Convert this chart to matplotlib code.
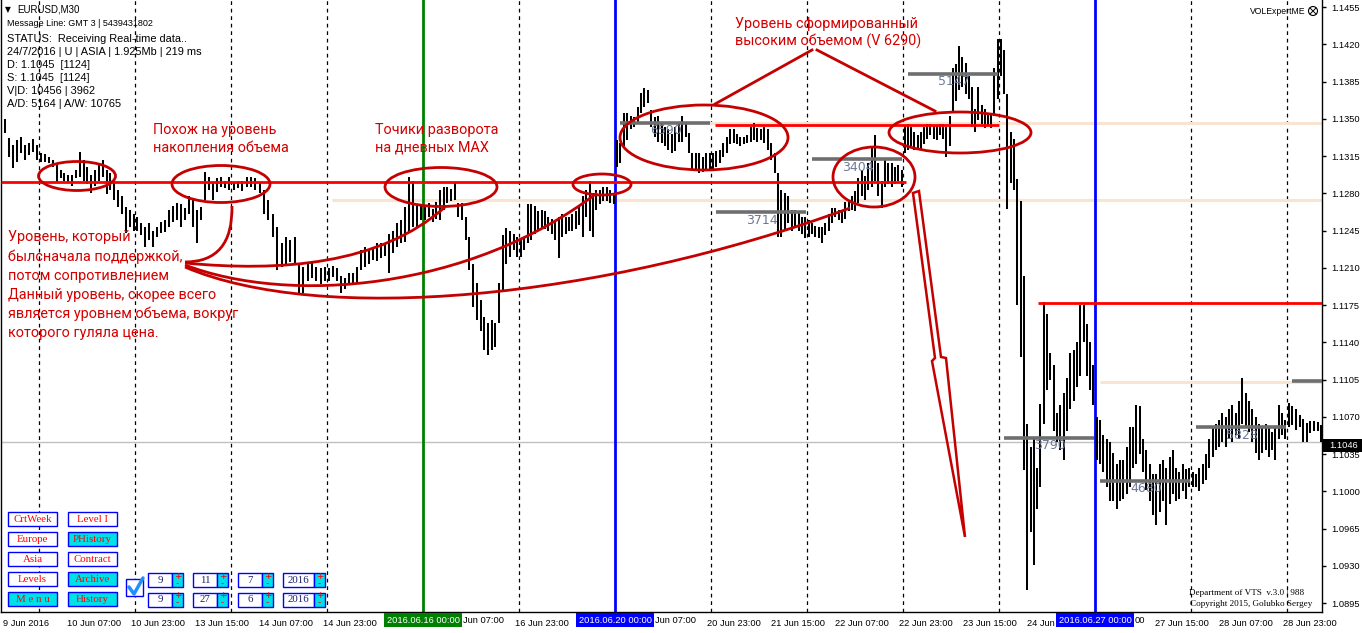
import matplotlib
matplotlib.use('Agg')
import matplotlib.pyplot as plt
from matplotlib.patches import Ellipse, Rectangle, Polygon, PathPatch
from matplotlib.path import Path
import numpy as np

# ---------------- data (EURUSD, M30 chart, read per day as hourly-ish bars) -------------
day_names = ['9 Jun', '10 Jun', '13 Jun', '14 Jun', '15 Jun', '16 Jun', '17 Jun', '20 Jun',
             '21 Jun', '22 Jun', '23 Jun', '24 Jun', '27 Jun', '28 Jun', '29 Jun']
# trading-hour span of each day (hours counted from 9 Jun 00:00, weekends removed)
day_start = [15, 24, 48, 72, 96, 120, 144, 168, 192, 216, 240, 264, 288, 312, 336]
day_end = [24, 48, 72, 96, 120, 144, 168, 192, 216, 240, 264, 288, 312, 336, 345]

hi_0609 = [1.1350, 1.1332, 1.1325, 1.1330, 1.1333, 1.1325, 1.1327, 1.1331, 1.1325]
lo_0609 = [1.1337, 1.1314, 1.1304, 1.1309, 1.1318, 1.1311, 1.1316, 1.1319, 1.1311]
hi_0610 = [1.1318, 1.1317, 1.1314, 1.1311, 1.1308, 1.1302, 1.1299, 1.1297, 1.1297, 1.1302, 1.1319, 1.1311, 1.1305,
           1.1297, 1.1302, 1.1308, 1.1311, 1.1302, 1.1299, 1.1292, 1.1283, 1.1277, 1.1267, 1.1264, 1.1261]
lo_0610 = [1.1309, 1.1309, 1.1308, 1.1305, 1.1290, 1.1294, 1.1292, 1.1291, 1.1287, 1.1294, 1.1295, 1.1292, 1.1289,
           1.1280, 1.1287, 1.1292, 1.1295, 1.1279, 1.1283, 1.1274, 1.1267, 1.1261, 1.1243, 1.1248, 1.1245]
hi_0613 = [1.1258, 1.1252, 1.1248, 1.1252, 1.1245, 1.1248, 1.1253, 1.1255, 1.1264, 1.1268, 1.1271, 1.1270,
           1.1266, 1.1277, 1.1274, 1.1264, 1.1267, 1.1300, 1.1295, 1.1290, 1.1294, 1.1295, 1.1292, 1.1295]
lo_0613 = [1.1245, 1.1241, 1.1230, 1.1236, 1.1230, 1.1239, 1.1243, 1.1244, 1.1248, 1.1253, 1.1255, 1.1248,
           1.1255, 1.1261, 1.1248, 1.1233, 1.1255, 1.1274, 1.1283, 1.1274, 1.1281, 1.1286, 1.1285, 1.1283]
hi_0614 = [1.1291, 1.1292, 1.1292, 1.1295, 1.1295, 1.1294, 1.1291, 1.1283, 1.1274, 1.1261, 1.1248, 1.1233,
           1.1239, 1.1236, 1.1239, 1.1213, 1.1211, 1.1214, 1.1215, 1.1211, 1.1210, 1.1211]
lo_0614 = [1.1283, 1.1285, 1.1282, 1.1286, 1.1286, 1.1283, 1.1280, 1.1261, 1.1255, 1.1239, 1.1208, 1.1211,
           1.1214, 1.1215, 1.1214, 1.1186, 1.1186, 1.1198, 1.1200, 1.1198, 1.1195, 1.1198]
hi_0615 = [1.1210, 1.1212, 1.1210, 1.1202, 1.1200, 1.1205, 1.1205, 1.1211, 1.1227, 1.1230, 1.1227, 1.1230,
           1.1233, 1.1233, 1.1233, 1.1242, 1.1245, 1.1252, 1.1255, 1.1267, 1.1295, 1.1292, 1.1270, 1.1270]
lo_0615 = [1.1198, 1.1201, 1.1198, 1.1186, 1.1190, 1.1195, 1.1196, 1.1195, 1.1208, 1.1211, 1.1214, 1.1217,
           1.1216, 1.1219, 1.1221, 1.1205, 1.1224, 1.1230, 1.1233, 1.1234, 1.1243, 1.1248, 1.1248, 1.1255]
hi_0616 = [1.1268, 1.1271, 1.1265, 1.1272, 1.1283, 1.1286, 1.1286, 1.1284, 1.1290, 1.1271, 1.1271, 1.1258, 1.1239,
           1.1214, 1.1196, 1.1180, 1.1164, 1.1158, 1.1161, 1.1158, 1.1196, 1.1241, 1.1247, 1.1245, 1.1242, 1.1239]
lo_0616 = [1.1255, 1.1258, 1.1253, 1.1256, 1.1255, 1.1264, 1.1271, 1.1273, 1.1274, 1.1258, 1.1255, 1.1236, 1.1208,
           1.1173, 1.1161, 1.1151, 1.1133, 1.1128, 1.1133, 1.1136, 1.1158, 1.1189, 1.1214, 1.1220, 1.1227, 1.1220]
hi_0617 = [1.1236, 1.1239, 1.1270, 1.1270, 1.1268, 1.1263, 1.1264, 1.1263, 1.1258, 1.1256, 1.1255, 1.1258, 1.1261, 1.1258,
           1.1258, 1.1261, 1.1263, 1.1267, 1.1277, 1.1283, 1.1292, 1.1280, 1.1283, 1.1283, 1.1286, 1.1286, 1.1283, 1.1280]
lo_0617 = [1.1220, 1.1227, 1.1233, 1.1236, 1.1242, 1.1245, 1.1246, 1.1246, 1.1245, 1.1242, 1.1236, 1.1219, 1.1239, 1.1242,
           1.1245, 1.1245, 1.1246, 1.1250, 1.1239, 1.1258, 1.1245, 1.1239, 1.1264, 1.1270, 1.1273, 1.1273, 1.1271, 1.1270]
hi_0620 = [1.1330, 1.1327, 1.1355, 1.1355, 1.1353, 1.1352, 1.1361, 1.1374, 1.1379, 1.1377, 1.1358, 1.1352, 1.1353, 1.1346,
           1.1342, 1.1340, 1.1336, 1.1342, 1.1346, 1.1353, 1.1346, 1.1337, 1.1318, 1.1318, 1.1318, 1.1314, 1.1318, 1.1318]
lo_0620 = [1.1305, 1.1308, 1.1324, 1.1330, 1.1340, 1.1342, 1.1346, 1.1355, 1.1361, 1.1365, 1.1342, 1.1333, 1.1328, 1.1327,
           1.1324, 1.1321, 1.1318, 1.1320, 1.1328, 1.1328, 1.1333, 1.1318, 1.1302, 1.1302, 1.1299, 1.1300, 1.1302, 1.1302]
hi_0621 = [1.1318, 1.1320, 1.1321, 1.1327, 1.1333, 1.1340, 1.1340, 1.1336, 1.1333, 1.1333, 1.1335, 1.1342, 1.1346, 1.1341,
           1.1340, 1.1342, 1.1340, 1.1327, 1.1318, 1.1299, 1.1283, 1.1280, 1.1277, 1.1264, 1.1264, 1.1263, 1.1258, 1.1258]
lo_0621 = [1.1302, 1.1305, 1.1308, 1.1314, 1.1318, 1.1326, 1.1327, 1.1326, 1.1324, 1.1326, 1.1327, 1.1328, 1.1330, 1.1328,
           1.1330, 1.1327, 1.1321, 1.1311, 1.1299, 1.1239, 1.1239, 1.1245, 1.1252, 1.1245, 1.1248, 1.1245, 1.1242, 1.1238]
hi_0622 = [1.1255, 1.1252, 1.1249, 1.1248, 1.1248, 1.1252, 1.1261, 1.1266, 1.1266, 1.1264, 1.1264, 1.1272, 1.1274, 1.1277,
           1.1282, 1.1294, 1.1302, 1.1296, 1.1308, 1.1324, 1.1335, 1.1308, 1.1292, 1.1311, 1.1308, 1.1308, 1.1305, 1.1307, 1.1302]
lo_0622 = [1.1239, 1.1242, 1.1239, 1.1238, 1.1233, 1.1241, 1.1245, 1.1252, 1.1258, 1.1255, 1.1252, 1.1256, 1.1263, 1.1264,
           1.1263, 1.1271, 1.1277, 1.1274, 1.1283, 1.1286, 1.1292, 1.1277, 1.1266, 1.1286, 1.1289, 1.1286, 1.1289, 1.1292, 1.1286]
hi_0623 = [1.1343, 1.1345, 1.1342, 1.1338, 1.1335, 1.1338, 1.1342, 1.1345, 1.1345, 1.1344, 1.1344, 1.1345, 1.1345, 1.1342, 1.1353,
           1.1398, 1.1401, 1.1418, 1.1408, 1.1402, 1.1390, 1.1380, 1.1359, 1.1380, 1.1363, 1.1359, 1.1355, 1.1355, 1.1398, 1.1425]
lo_0623 = [1.1318, 1.1321, 1.1324, 1.1321, 1.1322, 1.1321, 1.1326, 1.1331, 1.1335, 1.1331, 1.1330, 1.1335, 1.1331, 1.1314, 1.1324,
           1.1355, 1.1367, 1.1377, 1.1380, 1.1373, 1.1369, 1.1342, 1.1338, 1.1349, 1.1345, 1.1341, 1.1343, 1.1341, 1.1353, 1.1369]
hi_0624 = [1.1425, 1.1415, 1.1373, 1.1338, 1.1331, 1.1293, 1.1273, 1.1202, 1.1063, 1.1042, 1.1049, 1.1022, 1.1082, 1.1178, 1.1167,
           1.1130, 1.1119, 1.1074, 1.1081, 1.1092, 1.1106, 1.1130, 1.1133, 1.1140, 1.1175, 1.1175, 1.1157, 1.1140, 1.1119]
lo_0624 = [1.1390, 1.1373, 1.1265, 1.1290, 1.1283, 1.1175, 1.1126, 1.1020, 1.0907, 1.0962, 1.0931, 1.0983, 1.1004, 1.1063, 1.1095,
           1.1105, 1.1057, 1.1046, 1.1039, 1.1029, 1.1057, 1.1077, 1.1085, 1.1098, 1.1108, 1.1140, 1.1108, 1.1095, 1.1081]
hi_0627 = [1.1070, 1.1067, 1.1053, 1.1049, 1.1046, 1.1036, 1.1026, 1.1029, 1.1029, 1.1042, 1.1060, 1.1060, 1.1081, 1.1080, 1.1049,
           1.1039, 1.1026, 1.1016, 1.1016, 1.1026, 1.1029, 1.1022, 1.1032, 1.1039, 1.1022, 1.1018, 1.1026, 1.1021, 1.1022]
lo_0627 = [1.1029, 1.1026, 1.1018, 1.1004, 1.0991, 1.0991, 1.0983, 1.0991, 1.0993, 1.0997, 1.1004, 1.1022, 1.1026, 1.1035, 1.1018,
           1.1001, 1.0991, 1.0978, 1.0968, 1.0981, 1.0991, 1.0968, 1.0988, 1.0997, 1.0991, 1.0993, 1.1000, 1.0993, 1.1004]
hi_0628 = [1.1018, 1.1016, 1.1022, 1.1026, 1.1035, 1.1049, 1.1060, 1.1063, 1.1067, 1.1074, 1.1070, 1.1077, 1.1081, 1.1074, 1.1085,
           1.1106, 1.1092, 1.1085, 1.1077, 1.1070, 1.1063, 1.1060, 1.1063, 1.1060, 1.1056, 1.1060, 1.1081, 1.1074, 1.1067]
lo_0628 = [1.1004, 1.1004, 1.1000, 1.1007, 1.1011, 1.1022, 1.1032, 1.1039, 1.1042, 1.1046, 1.1042, 1.1049, 1.1046, 1.1053, 1.1049,
           1.1063, 1.1060, 1.1056, 1.1046, 1.1036, 1.1029, 1.1036, 1.1039, 1.1032, 1.1039, 1.1029, 1.1049, 1.1053, 1.1049]
hi_0629 = [1.1083, 1.1080, 1.1077, 1.1072, 1.1068, 1.1064, 1.1066, 1.1066, 1.1065, 1.1062]
lo_0629 = [1.1060, 1.1062, 1.1058, 1.1060, 1.1046, 1.1046, 1.1055, 1.1057, 1.1057, 1.1046]

highs = [hi_0609, hi_0610, hi_0613, hi_0614, hi_0615, hi_0616, hi_0617, hi_0620,
         hi_0621, hi_0622, hi_0623, hi_0624, hi_0627, hi_0628, hi_0629]
lows = [lo_0609, lo_0610, lo_0613, lo_0614, lo_0615, lo_0616, lo_0617, lo_0620,
        lo_0621, lo_0622, lo_0623, lo_0624, lo_0627, lo_0628, lo_0629]

# daily volume levels (POC) with volume values
poc_day_start = [168, 192, 216, 240, 264, 288, 312, 336]
poc_price = [1.1346, 1.1262, 1.1312, 1.1392, 1.1050, 1.1010, 1.1060, 1.1104]
poc_volume = ['6590', '3714', '3404', '5147', '3790', '4680', '5828', '']

# manually drawn levels
red_level_price = [1.1291, 1.1344, 1.1177]
red_level_from = [14.25, 193.0, 273.75]
red_level_to = [240.75, 264.0, 344.75]
beige_level_price = [1.1346, 1.1274, 1.1103]
beige_level_from = [191.75, 97.25, 289.25]
last_price = 1.1046

price_ticks = [1.1455, 1.1420, 1.1385, 1.1350, 1.1315, 1.1280, 1.1245, 1.1210, 1.1175,
               1.1140, 1.1105, 1.1070, 1.1035, 1.1000, 1.0965, 1.0930, 1.0895]
time_tick_hours = [15, 31, 47, 63, 79, 95, 143, 191, 207, 223, 239, 255, 271, 303, 319, 335]
time_tick_labels = ['9 Jun 2016', '10 Jun 07:00', '10 Jun 23:00', '13 Jun 15:00', '14 Jun 07:00',
                    '14 Jun 23:00', '16 Jun 23:00', '20 Jun 23:00',
                    '21 Jun 15:00', '22 Jun 07:00', '22 Jun 23:00', '23 Jun 15:00', '24 Jun',
                    '27 Jun 15:00', '28 Jun 07:00', '28 Jun 23:00']
# labels partly covered by the highlighted date boxes (only their visible tails)
covered_tick_hours = [127, 175, 287]
covered_tick_tails = ['Jun 07:00', 'Jun 07:00', '00']
separator_hours = [24, 48, 72, 96, 144, 192, 216, 240, 264, 312, 336]
marker_hours = [120, 168, 288]
marker_labels = ['2016.06.16 00:00', '2016.06.20 00:00', '2016.06.27 00:00']
marker_colors = ['#008000', '#0000ff', '#0000ff']

# ---------------- figure ----------------
W, H = 1362, 633
fig = plt.figure(figsize=(W / 100, H / 100), dpi=100)
fig.patch.set_facecolor('white')
ax = fig.add_axes([0.5 / W, (H - 612) / H, 1321.5 / W, 612 / H])
ax.set_xlim(14.25, 344.75)
ax.set_ylim(1.08866, 1.14616)
ax.set_facecolor('white')
ax.spines['top'].set_visible(False)
for s in ['left', 'right', 'bottom']:
    ax.spines[s].set_color('black')
    ax.spines[s].set_linewidth(1)

axis_font = 'Liberation Sans'
ax.yaxis.tick_right()
ax.set_yticks(price_ticks)
ax.set_yticklabels(['%.4f' % p for p in price_ticks], fontsize=6.7, family=axis_font)
ax.tick_params(axis='y', length=3, width=1, pad=4, colors='black')
ax.set_xticks(time_tick_hours)
ax.set_xticklabels(time_tick_labels, fontsize=6.7, family=axis_font, ha='left')
ax.tick_params(axis='x', length=0, pad=5)

for t in separator_hours:
    ax.axvline(t, color='black', lw=0.9, ls=(0, (3, 3)), zorder=1)
for t, c in zip(marker_hours, marker_colors):
    ax.axvline(t, color=c, lw=2, zorder=2)

ax.axhline(last_price, color='#c0c0c0', lw=1, zorder=1)
for p, t0 in zip(beige_level_price, beige_level_from):
    ax.hlines(p, t0, 344.75, color='#f8e4d0', lw=2.2, zorder=1)

# bars
for s, e, hi, lo in zip(day_start, day_end, highs, lows):
    n = len(hi)
    t = s + (np.arange(n) + 0.5) * (e - s) / n
    ax.vlines(t, lo, hi, color='black', lw=1.45, zorder=3)

# volume levels
for ds, p, v in zip(poc_day_start, poc_price, poc_volume):
    ax.hlines(p, ds + 1.2, min(ds + 23.7, 344.75), color='#6e6e6e', lw=2.6, zorder=4)
    if v:
        ax.text(ds + 8.8, p - 0.00012, v, fontsize=9, color='#6b7896', va='top', ha='left',
                family='DejaVu Sans', zorder=4)

for p, a, b in zip(red_level_price, red_level_from, red_level_to):
    ax.hlines(p, a, b, color='#ff0000', lw=2, zorder=5)

# ---------------- overlay (pixel coordinates) ----------------
ov = fig.add_axes([0, 0, 1, 1], zorder=5)
ov.set_xlim(0, W)
ov.set_ylim(H, 0)
ov.axis('off')
ov.patch.set_alpha(0)

def px_of_hour(t):
    return 0.5 + (t - 14.25) / (344.75 - 14.25) * 1321.5

# x-axis highlighted markers
for t, lab, c in zip(marker_hours, marker_labels, marker_colors):
    xc = px_of_hour(t)
    ov.add_patch(Rectangle((xc - 39, 613), 78, 14, facecolor=c, edgecolor='none', zorder=6))
    ov.text(xc, 620.5, lab, color='white', fontsize=6.7, family=axis_font, ha='center', va='center', zorder=7)
for t, tail in zip(covered_tick_hours, covered_tick_tails):
    xr = px_of_hour(t) if False else None
for t, tail, m in zip(covered_tick_hours, covered_tick_tails, marker_hours):
    ov.text(px_of_hour(m) + 40, 620.5, tail, color='black', fontsize=6.7, family=axis_font,
            ha='left', va='center')

# last price box
ov.add_patch(Rectangle((1323, 439), 39, 13, facecolor='black', edgecolor='none'))
ov.text(1329, 445.5, '%.4f' % last_price, color='white', fontsize=6.7, family=axis_font, va='center', ha='left')

# info text top-left
info_font = 'Liberation Sans'
ov.text(5, 10, '\u25bc', fontsize=5.5, family='DejaVu Sans', va='center', color='black')
ov.text(17, 10, 'EURUSD,M30', fontsize=7.0, family=info_font, va='center', color='black')
ov.text(7, 24, 'Message Line: GMT 3 | 5439431802', fontsize=6.5, family=info_font, va='center')
info_lines = ['STATUS:  Receiving Real-time data..', '24/7/2016 | U | ASIA | 1.925Mb | 219 ms',
              'D: 1.1045  [1124]', 'S: 1.1045  [1124]', 'V|D: 10456 | 3962', 'A/D: 5164 | A/W: 10765']
for i, s in enumerate(info_lines):
    ov.text(7, 39 + i * 13, s, fontsize=7.9, family=info_font, va='center')

ov.text(1305, 11, 'VOLExpertME', fontsize=6.2, family=info_font, va='center', ha='right')
ov.add_patch(Ellipse((1313, 11), 9, 9, facecolor='white', edgecolor='black', lw=0.8))
ov.plot([1310, 1316], [8, 14], color='black', lw=0.7)
ov.plot([1310, 1316], [14, 8], color='black', lw=0.7)

# annotations
red_txt = '#d40000'
red_shape = '#c40000'
ann_font = ['Roboto', 'DejaVu Sans']
ov.text(153, 139, 'Похож на уровень\nнакопления объема', fontsize=10.4, family=ann_font, color=red_txt,
        va='center', linespacing=1.3)
ov.text(375, 139, 'Точики разворота\nна дневных MAX', fontsize=10.4, family=ann_font, color=red_txt,
        va='center', linespacing=1.3)
ov.text(735, 33, 'Уровень сформированный\nвысоким объемом (V 6290)', fontsize=10.4, family=ann_font,
        color=red_txt, va='center', linespacing=1.3)
left_lines = ['Уровень, который', 'былсначала поддержкой,', 'потом сопротивлением',
              'Данный уровень, скорее всего', 'является уровнем объема, вокруг', 'которого гуляла цена.']
for i, s in enumerate(left_lines):
    ov.text(8, 237 + i * 19.3, s, fontsize=10.4, family=ann_font, color=red_txt, va='center')

for (cx, cy, w, h) in [(77, 176, 77, 29), (221, 184, 98, 37), (441, 187, 112, 39), (602, 184.5, 58, 21),
                       (704, 137.5, 168, 65), (874, 177, 82, 60), (960, 132.5, 142, 41)]:
    ov.add_patch(Ellipse((cx, cy), w, h, facecolor='none', edgecolor=red_shape, lw=2))

curves = [
    [(185, 262), (233, 262), (232, 206)],
    [(185, 263), (280, 272), (380, 265), (445, 207)],
    [(185, 265), (290, 305), (470, 290), (597, 193)],
    [(185, 267), (320, 325), (600, 300), (850, 208)],
]
for c in curves:
    codes = [Path.MOVETO] + ([Path.CURVE3] * 2 if len(c) == 3 else [Path.CURVE4] * 3)
    ov.add_patch(PathPatch(Path(c, codes), facecolor='none', edgecolor=red_shape, lw=2))
ov.plot([812, 715], [50, 104], color=red_shape, lw=2)
ov.plot([817, 935], [50, 111], color=red_shape, lw=2)
ov.add_patch(Polygon([(913, 193), (935, 358), (932, 361), (965, 537), (946, 358), (941, 357), (919, 191)],
                     closed=True, facecolor='none', edgecolor=red_shape, lw=1.8, joinstyle='miter'))

# control panel buttons
btn_font = 'Liberation Serif'
cyan = '#00e0e8'
col1 = [('CrtWeek', 'white'), ('Europe', 'white'), ('Asia', 'white'), ('Levels', 'white'), ('M e n u', cyan)]
col2 = [('Level I', 'white'), ('PHistory', cyan), ('Contract', 'white'), ('Archive', cyan), ('History', cyan)]
for i in range(5):
    y0 = 512 + i * 20
    for x0, (lab, fc) in zip([8, 68], [col1[i], col2[i]]):
        ov.add_patch(Rectangle((x0, y0), 49, 14, facecolor=fc, edgecolor='#0000ff', lw=1))
        ov.text(x0 + 24.5, y0 + 7.5, lab, fontsize=7.8, family=btn_font, color='#ff0000', ha='center', va='center')

ov.add_patch(Rectangle((126, 579), 17, 17, facecolor='white', edgecolor='#0000ff', lw=1))
ov.plot([129, 134, 143], [587, 594, 578], color='#1e90ff', lw=2.5, solid_capstyle='round')

spin_rows = [['9', '11', '7', '2016'], ['9', '27', '6', '2016']]
spin_x = [148, 193, 238, 283]
spin_w = [24, 24, 24, 31]
for r, vals in enumerate(spin_rows):
    y0 = 573 + r * 19.5
    for x0, w, v in zip(spin_x, spin_w, vals):
        ov.add_patch(Rectangle((x0, y0), w, 14, facecolor='white', edgecolor='#0000ff', lw=1))
        ov.text(x0 + w / 2, y0 + 7.5, v, fontsize=7.8, family=btn_font, color='#20206a', ha='center', va='center')
        ov.add_patch(Rectangle((x0 + w, y0), 11, 14, facecolor=cyan, edgecolor='#0000ff', lw=1))
        ov.text(x0 + w + 5.5, y0 + 3.5, '+', fontsize=6.5, family='DejaVu Sans', color='#ff0000', ha='center', va='center')
        ov.text(x0 + w + 5.5, y0 + 10.5, '-', fontsize=6.5, family='DejaVu Sans', color='#ff0000', ha='center', va='center')

ov.text(1247, 593, 'Department of VTS  v.3.0 | 988', fontsize=6.6, family=btn_font, ha='center', va='center')
ov.text(1251, 603.5, 'Copyright 2015, Golubko Sergey', fontsize=6.6, family=btn_font, ha='center', va='center')

fig.savefig('out.png', dpi=100, facecolor='white')
